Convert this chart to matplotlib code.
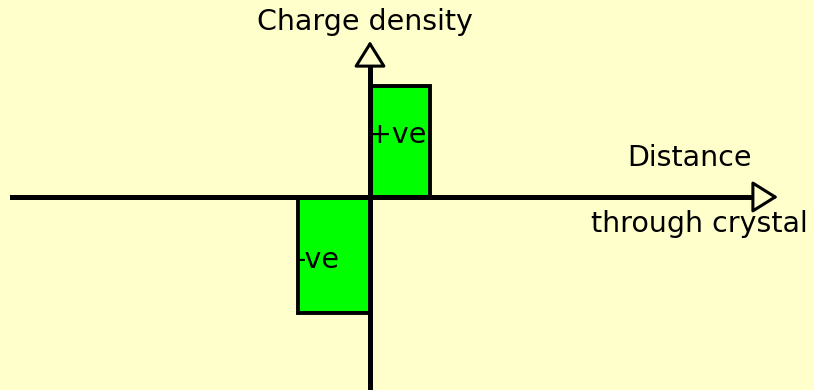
import numpy as np
import matplotlib.pyplot as plt

# data: charge density across the junction (origin at axis crossing)
bar_left = [0, -72]
bar_width = [60, 72]
bar_height = [111, -116]
bar_labels = ["+ve", "-ve"]

bg = "#ffffcc"

fig = plt.figure(figsize=(8.14, 3.90), dpi=100, facecolor=bg)
ax = fig.add_axes([0, 0, 1, 1])
ax.set_facecolor(bg)
ax.set_xlim(-370, 444)
ax.set_ylim(-193, 197)
ax.axis("off")

# bars
ax.bar(bar_left, bar_height, width=bar_width, align="edge",
       color="#00ff00", edgecolor="black", linewidth=2.8, zorder=2)

# axes lines
ax.plot([-358, 388], [0, 0], color="black", linewidth=3.6, zorder=3)
ax.plot([0, 0], [-193, 137], color="black", linewidth=3.6, zorder=3)

# open arrowheads
arrow = dict(arrowstyle="-|>,head_length=0.8,head_width=0.5", mutation_scale=20,
             fc=bg, ec="black", lw=2.2, shrinkA=0, shrinkB=0)
ax.annotate("", xy=(408, 0), xytext=(386, 0), arrowprops=arrow, zorder=4)
ax.annotate("", xy=(0, 156), xytext=(0, 134), arrowprops=arrow, zorder=4)

# labels
fs = 20.5
ax.text(-5, 175, "Charge density", ha="center", va="center", fontsize=fs)
ax.text(320, 39, "Distance", ha="center", va="center", fontsize=fs)
ax.text(329, -27, "through crystal", ha="center", va="center", fontsize=fs)
ax.text(bar_left[0] - 2, bar_height[0] - 49, bar_labels[0], ha="left", va="center", fontsize=fs)
ax.text(bar_left[1] - 2, bar_height[1] + 53, bar_labels[1], ha="left", va="center", fontsize=fs)

fig.savefig("out.png", dpi=100, facecolor=bg)
